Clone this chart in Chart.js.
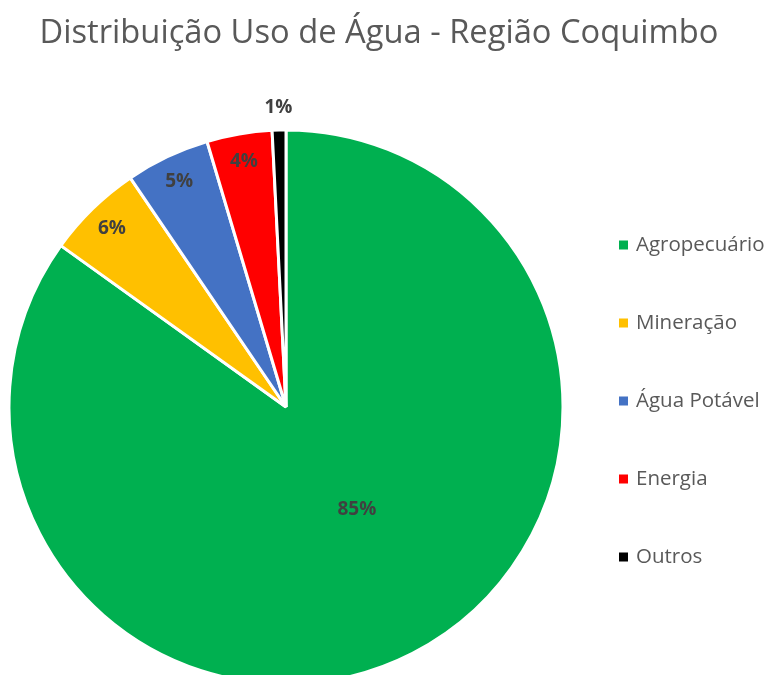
<!DOCTYPE html>
<html>
<head>
<meta charset="utf-8">
<script src="https://cdn.jsdelivr.net/npm/chart.js@4/dist/chart.umd.min.js"></script>
<style>
html,body{margin:0;padding:0;background:#fff;overflow:hidden;}
canvas{display:block;}
</style>
</head>
<body>
<canvas id="c" width="769" height="675"></canvas>
<script>
const categories = ["Agropecuário", "Mineração", "Água Potável", "Energia", "Outros"];
const values = [84.9, 5.6, 4.9, 3.8, 0.8];
const colors = ["#00B050", "#FFC000", "#4472C4", "#FF0000", "#000000"];
const titleText = "Distribuição Uso de Água - Região Coquimbo";

const FONT = "'Open Sans', 'DejaVu Sans', sans-serif";

const sliceLabels = {
  id: 'sliceLabels',
  afterDatasetsDraw(chart) {
    const ctx = chart.ctx;
    const meta = chart.getDatasetMeta(0);
    const total = values.reduce((a, b) => a + b, 0);
    ctx.save();
    ctx.font = "bold 19px " + FONT;
    ctx.fillStyle = "#404040";
    ctx.textAlign = "center";
    ctx.textBaseline = "middle";
    meta.data.forEach((arc, i) => {
      const frac = values[i] / total;
      let mid = (arc.startAngle + arc.endAngle) / 2;
      let f = 0.9;
      if (frac > 0.5) { f = 0.45; mid -= 0.13; }
      else if (frac < 0.02) f = 1.08;
      const r = arc.outerRadius * f;
      const x = arc.x + Math.cos(mid) * r;
      const y = arc.y + Math.sin(mid) * r;
      ctx.fillText(Math.round(frac * 100) + "%", x, y);
    });
    ctx.restore();
  }
};

const titleAndLegend = {
  id: 'titleAndLegend',
  afterDraw(chart) {
    const ctx = chart.ctx;
    ctx.save();
    ctx.font = "32.7px " + FONT;
    ctx.fillStyle = "#595959";
    ctx.textAlign = "center";
    ctx.textBaseline = "middle";
    ctx.fillText(titleText, 379, 34);

    ctx.font = "20.5px " + FONT;
    ctx.textAlign = "left";
    const x0 = 619, y0 = 245, step = 78;
    categories.forEach((c, i) => {
      const y = y0 + i * step;
      ctx.fillStyle = colors[i];
      ctx.fillRect(x0, y - 4.5, 9, 9);
      ctx.fillStyle = "#595959";
      ctx.fillText(c, x0 + 17, y);
    });
    ctx.restore();
  }
};

new Chart(document.getElementById('c'), {
  type: 'pie',
  data: {
    labels: categories,
    datasets: [{
      data: values,
      backgroundColor: colors,
      borderColor: "#ffffff",
      borderWidth: 3
    }]
  },
  options: {
    responsive: false,
    animation: false,
    radius: 277,
    layout: { padding: { left: 0, right: 197, top: 139, bottom: 0 } },
    plugins: {
      legend: { display: false },
      tooltip: { enabled: false },
      title: { display: false }
    }
  },
  plugins: [sliceLabels, titleAndLegend]
});
</script>
</body>
</html>
